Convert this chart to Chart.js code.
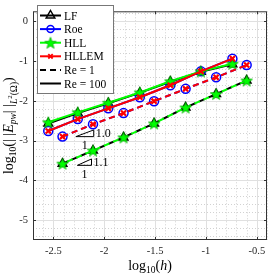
<!DOCTYPE html>
<html>
<head>
<meta charset="utf-8">
<script src="https://cdn.jsdelivr.net/npm/chart.js"></script>
<style>
  html, body { margin: 0; padding: 0; background: #fff; }
  canvas { display: block; }
</style>
</head>
<body>
<canvas id="errChart" width="274" height="276"></canvas>
<script>
// log10(h) of the meshes, one list per Reynolds number
const hRe1   = [-2.41, -2.11, -1.81, -1.51, -1.20, -0.90, -0.60];
const hRe100 = [-2.55, -2.26, -1.96, -1.65, -1.35, -1.05, -0.74];

// log10 error, Re = 1 (dashed)
const lfRe1    = [-3.58, -3.25, -2.92, -2.57, -2.17, -1.83, -1.49];
const roeRe1   = [-2.90, -2.59, -2.31, -2.01, -1.70, -1.41, -1.10];
const hllRe1   = [-3.58, -3.25, -2.92, -2.57, -2.17, -1.83, -1.49];
const hllemRe1 = [-2.90, -2.59, -2.31, -2.01, -1.70, -1.41, -1.10];

// log10 error, Re = 100 (solid)
const lfRe100    = [-2.57, -2.31, -2.06, -1.80, -1.52, -1.27, -1.08];
const roeRe100   = [-2.76, -2.46, -2.19, -1.91, -1.61, -1.26, -0.94];
const hllRe100   = [-2.54, -2.29, -2.05, -1.79, -1.51, -1.26, -1.07];
const hllemRe100 = [-2.76, -2.46, -2.19, -1.91, -1.61, -1.26, -0.94];

const xTicks = [-2.5, -2, -1.5, -1, -0.5];
const yTicks = [0, -1, -2, -3, -4, -5];
const legendLabels = ['LF', 'Roe', 'HLL', 'HLLEM', 'Re = 1', 'Re = 100'];

// slope triangles: [x0, x1, yBottom, yTop] in data units, plus their labels
const slopeTris = [[-2.279, -2.103, -2.901, -2.733], [-2.264, -2.125, -3.623, -3.462]];
const slopeLabels = ['1.0', '1.1'];

const SERIF = '"Liberation Serif", "DejaVu Serif", serif';

function starImage(r) {
    const c = document.createElement('canvas');
    const s = Math.ceil(r * 2 + 2);
    c.width = s; c.height = s;
    const g = c.getContext('2d');
    g.beginPath();
    for (let i = 0; i < 10; i++) {
        const rr = i % 2 ? r * 0.42 : r;
        const a = -Math.PI / 2 + i * Math.PI / 5;
        g.lineTo(s / 2 + rr * Math.cos(a), s / 2 + 0.6 + rr * Math.sin(a));
    }
    g.closePath();
    g.fillStyle = '#00ff00';
    g.fill();
    g.strokeStyle = '#00b400';
    g.lineWidth = 0.8;
    g.stroke();
    return c;
}
const star = starImage(6);

const styles = {
    LF:    { color: '#000000', pointStyle: 'triangle', radius: 5, width: 1.5 },
    Roe:   { color: '#0000ff', pointStyle: 'circle', radius: 4.5, width: 1.5 },
    HLL:   { color: '#00ff00', pointStyle: star, radius: 6, width: 1 },
    HLLEM: { color: '#ff0000', pointStyle: 'crossRot', radius: 3.6, width: 2.2 }
};

function pts(xs, ys) {
    return xs.map((x, i) => ({ x: x, y: ys[i] }));
}

function series(name, xs, ys, dashed, dashOffset) {
    const st = styles[name];
    return {
        label: name,
        data: pts(xs, ys),
        showLine: true,
        borderColor: st.color,
        backgroundColor: 'rgba(0,0,0,0)',
        borderWidth: 2,
        borderDash: dashed ? [6, 4] : [],
        borderDashOffset: dashOffset || 0,
        pointStyle: st.pointStyle,
        pointRadius: st.radius,
        pointBorderColor: st.color,
        pointBackgroundColor: 'rgba(0,0,0,0)',
        pointBorderWidth: st.width
    };
}

// first dataset ends up on top
const datasets = [
    series('HLLEM', hRe100, hllemRe100, false),
    series('HLLEM', hRe1, hllemRe1, true),
    series('HLL', hRe100, hllRe100, false),
    series('HLL', hRe1, hllRe1, true, 5),
    series('Roe', hRe100, roeRe100, false),
    series('Roe', hRe1, roeRe1, true),
    series('LF', hRe100, lfRe100, false),
    series('LF', hRe1, lfRe1, true)
];

// rich text helper for the math-ish axis labels
function drawRich(g, parts, cx, baseY) {
    let total = 0;
    parts.forEach(p => {
        g.font = (p.italic ? 'italic ' : '') + p.size + 'px ' + SERIF;
        p.w = g.measureText(p.t).width;
        total += p.w;
    });
    let x = cx - total / 2;
    g.textAlign = 'left';
    g.textBaseline = 'alphabetic';
    parts.forEach(p => {
        g.font = (p.italic ? 'italic ' : '') + p.size + 'px ' + SERIF;
        g.fillText(p.t, x, baseY + (p.dy || 0));
        x += p.w;
    });
}

const gridPlugin = {
    id: 'matlabGrid',
    beforeDatasetsDraw(chart) {
        const { ctx, chartArea: a, scales: { x, y } } = chart;
        ctx.save();
        ctx.lineWidth = 1;
        // minor dotted lines
        ctx.strokeStyle = '#d2d2d2';
        ctx.setLineDash([1, 2]);
        for (let k = -27; k <= -4; k++) {
            if (k % 5 === 0) continue;
            const px = Math.round(x.getPixelForValue(k / 10)) + 0.5;
            ctx.beginPath(); ctx.moveTo(px, a.top); ctx.lineTo(px, a.bottom); ctx.stroke();
        }
        for (let k = -27; k <= 1; k++) {
            if (k % 5 === 0) continue;
            const py = Math.round(y.getPixelForValue(k * 0.2)) + 0.5;
            ctx.beginPath(); ctx.moveTo(a.left, py); ctx.lineTo(a.right, py); ctx.stroke();
        }
        // major solid lines
        ctx.setLineDash([]);
        ctx.strokeStyle = '#e0e0e0';
        xTicks.forEach(v => {
            const px = Math.round(x.getPixelForValue(v)) + 0.5;
            ctx.beginPath(); ctx.moveTo(px, a.top); ctx.lineTo(px, a.bottom); ctx.stroke();
        });
        yTicks.forEach(v => {
            const py = Math.round(y.getPixelForValue(v)) + 0.5;
            ctx.beginPath(); ctx.moveTo(a.left, py); ctx.lineTo(a.right, py); ctx.stroke();
        });
        ctx.restore();
    }
};

const overlayPlugin = {
    id: 'overlay',
    afterDatasetsDraw(chart) {
        const { ctx, scales: { x, y } } = chart;
        ctx.save();
        ctx.strokeStyle = '#000';
        ctx.fillStyle = '#000';
        ctx.lineWidth = 1;
        slopeTris.forEach((t, i) => {
            const x0 = x.getPixelForValue(t[0]), x1 = x.getPixelForValue(t[1]);
            const yb = y.getPixelForValue(t[2]), yt = y.getPixelForValue(t[3]);
            ctx.beginPath();
            ctx.moveTo(x0, yb); ctx.lineTo(x1, yb); ctx.lineTo(x1, yt); ctx.closePath();
            ctx.stroke();
            ctx.font = '12px ' + SERIF;
            ctx.textBaseline = 'middle';
            ctx.textAlign = 'left';
            ctx.fillText(slopeLabels[i], x1 + 2, (yb + yt) / 2 + 1);
            ctx.textAlign = 'center';
            ctx.fillText('1', (x0 + x1) / 2, yb + 9);
        });
        ctx.restore();
    },
    afterDraw(chart) {
        const { ctx, chartArea: a, scales: { x, y } } = chart;
        ctx.save();
        // axes box with inward ticks
        ctx.strokeStyle = '#333';
        ctx.lineWidth = 1;
        ctx.strokeRect(a.left + 0.5, a.top + 0.5, a.right - a.left - 1, a.bottom - a.top - 1);
        ctx.beginPath();
        xTicks.forEach(v => {
            const px = Math.round(x.getPixelForValue(v)) + 0.5;
            ctx.moveTo(px, a.bottom); ctx.lineTo(px, a.bottom - 3);
            ctx.moveTo(px, a.top); ctx.lineTo(px, a.top + 3);
        });
        yTicks.forEach(v => {
            const py = Math.round(y.getPixelForValue(v)) + 0.5;
            ctx.moveTo(a.left, py); ctx.lineTo(a.left + 3, py);
            ctx.moveTo(a.right, py); ctx.lineTo(a.right - 3, py);
        });
        ctx.stroke();

        // legend
        const bx = 37.5, by = 5.5, bw = 76, bh = 88;
        ctx.fillStyle = '#fff';
        ctx.fillRect(bx, by, bw, bh);
        ctx.strokeStyle = '#777';
        ctx.strokeRect(bx, by, bw, bh);
        const keys = ['LF', 'Roe', 'HLL', 'HLLEM'];
        legendLabels.forEach((lab, i) => {
            const ly = 15.5 + i * 13.6;
            const st = styles[keys[i]];
            ctx.lineWidth = 2;
            ctx.strokeStyle = st ? st.color : '#000';
            ctx.setLineDash(i === 4 ? [6, 4] : []);
            ctx.beginPath(); ctx.moveTo(40, ly); ctx.lineTo(61, ly); ctx.stroke();
            ctx.setLineDash([]);
            const mx = 50.5;
            if (keys[i] === 'LF') {
                ctx.lineWidth = 1.5;
                ctx.beginPath();
                ctx.moveTo(mx, ly - 5); ctx.lineTo(mx + 4.3, ly + 2.5); ctx.lineTo(mx - 4.3, ly + 2.5);
                ctx.closePath(); ctx.stroke();
            } else if (keys[i] === 'Roe') {
                ctx.lineWidth = 1.5;
                ctx.beginPath(); ctx.arc(mx, ly, 3.5, 0, Math.PI * 2); ctx.stroke();
            } else if (keys[i] === 'HLL') {
                ctx.drawImage(star, mx - star.width / 2, ly - star.height / 2);
            } else if (keys[i] === 'HLLEM') {
                ctx.lineWidth = 1.8;
                ctx.beginPath();
                ctx.moveTo(mx - 2.2, ly - 2.2); ctx.lineTo(mx + 2.2, ly + 2.2);
                ctx.moveTo(mx + 2.2, ly - 2.2); ctx.lineTo(mx - 2.2, ly + 2.2);
                ctx.stroke();
            }
            ctx.fillStyle = '#000';
            ctx.font = '11.5px ' + SERIF;
            ctx.textAlign = 'left';
            ctx.textBaseline = 'middle';
            ctx.fillText(lab, 64, ly + 1);
        });

        // axis titles
        ctx.fillStyle = '#000';
        drawRich(ctx, [
            { t: 'log', size: 14 },
            { t: '10', size: 9.5, dy: 3 },
            { t: '(', size: 14 },
            { t: 'h', size: 14, italic: true },
            { t: ')', size: 14 }
        ], (a.left + a.right) / 2, 270);

        ctx.translate(13, (a.top + a.bottom) / 2);
        ctx.rotate(-Math.PI / 2);
        drawRich(ctx, [
            { t: 'log', size: 14 },
            { t: '10', size: 9.5, dy: 3 },
            { t: '(', size: 14 },
            { t: '| |', size: 14 },
            { t: 'E', size: 14, italic: true },
            { t: 'pw', size: 9.5, italic: true, dy: 3 },
            { t: '| |', size: 14 },
            { t: 'L', size: 9.5, italic: true, dy: 4 },
            { t: '2', size: 7, dy: -1 },
            { t: '(Ω)', size: 9.5, dy: 4 },
            { t: ')', size: 14 }
        ], 0, 0);
        ctx.restore();
    }
};

const tickFont = { family: SERIF, size: 10.5 };

new Chart(document.getElementById('errChart').getContext('2d'), {
    type: 'scatter',
    data: { datasets: datasets },
    options: {
        responsive: false,
        animation: false,
        devicePixelRatio: 1,
        layout: { padding: { top: 1, right: 2, left: 0, bottom: 0 } },
        plugins: { legend: { display: false }, tooltip: { enabled: false } },
        scales: {
            x: {
                type: 'linear', min: -2.7, max: -0.4,
                grid: { display: false, drawTicks: false },
                border: { display: false },
                afterBuildTicks: s => { s.ticks = xTicks.map(v => ({ value: v })); },
                afterFit: s => { s.height = 36; },
                ticks: { padding: 5, color: '#262626', font: tickFont, maxRotation: 0, autoSkip: false,
                         callback: v => String(v) }
            },
            y: {
                type: 'linear', min: -5.5, max: 0.25,
                grid: { display: false, drawTicks: false },
                border: { display: false },
                afterBuildTicks: s => { s.ticks = yTicks.map(v => ({ value: v })); },
                afterFit: s => { s.width = 33; },
                ticks: { padding: 5, color: '#262626', font: tickFont, autoSkip: false,
                         callback: v => String(v) }
            }
        }
    },
    plugins: [gridPlugin, overlayPlugin]
});
</script>
</body>
</html>
